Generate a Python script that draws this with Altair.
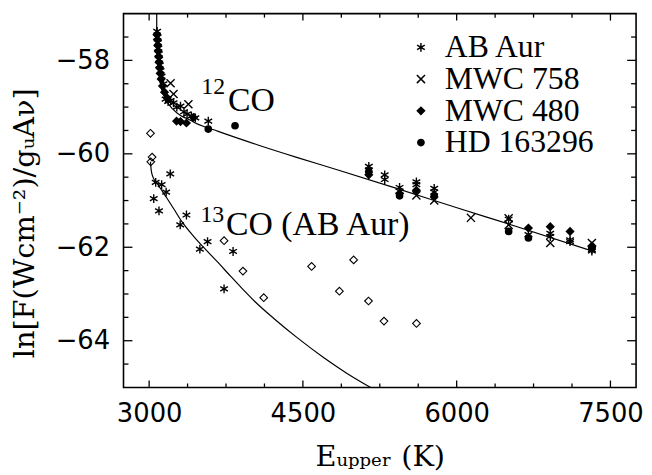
import altair as alt
import pandas as pd

# ---------------- data ----------------
stars = ["AB Aur", "MWC 758", "MWC 480", "HD 163296"]

# 12CO, AB Aur (asterisks)
ab12_E = [3078, 3082, 3086, 3090, 3094, 3098, 3104, 3112, 3122, 3140, 3161, 3185, 3210,
          3238, 3270, 3306, 3340, 3370, 3412, 3451, 3577,
          5143, 5143, 5298, 5298, 5443, 5443, 5607, 5607, 5781, 5781,
          6507, 6700, 6913, 6913, 7106, 7106, 7319, 7319]
ab12_y = [-57.38, -57.50, -57.62, -57.74, -57.86, -57.98, -58.10, -58.22, -58.34, -58.50,
          -58.83, -58.88, -58.86, -58.91, -59.00, -58.98, -59.10, -59.15, -59.19, -59.23, -59.30,
          -60.27, -60.35, -60.45, -60.55, -60.72, -60.80, -60.60, -60.66, -60.74, -60.82,
          -61.40, -61.73, -61.70, -61.77, -61.84, -61.88, -62.05, -62.08]

# 12CO, MWC 758 (crosses)
m758_E = [3209, 3238, 3383, 5607, 5781, 6139, 6507, 6507, 6913, 7319]
m758_y = [-58.49, -58.72, -58.94, -60.89, -61.00, -61.37, -61.38, -61.52, -61.91, -61.91]

# 12CO, MWC 480 (filled diamonds)
m480_E = [3076, 3080, 3084, 3088, 3092, 3096, 3101, 3108, 3117, 3130, 3150, 3175,
          3267, 3306, 3364, 3432,
          5143, 5443, 5607, 6700, 6913, 7106, 7319]
m480_y = [-57.45, -57.56, -57.68, -57.80, -57.92, -58.04, -58.16, -58.28, -58.40, -58.55,
          -58.68, -58.80, -59.30, -59.31, -59.34, -59.22,
          -60.45, -60.85, -60.78, -61.59, -61.56, -61.66, -61.97]

# 12CO, HD 163296 (filled circles)
hd_E = [3577, 3838, 5143, 5443, 5781, 6507, 6700, 7319]
hd_y = [-59.47, -59.40, -60.38, -60.90, -60.90, -61.66, -61.80, -62.02]

# 13CO (AB Aur), asterisks
ab13_E = [3206, 3064, 3122, 3166, 3045, 3096, 3364, 3303, 3570, 3495, 3819, 3731]
ab13_y = [-60.43, -60.61, -60.66, -60.82, -60.96, -61.22, -61.31, -61.52, -61.88, -62.04, -62.09, -62.89]

# open diamonds
od_E = [3013, 3029, 3016, 3731, 3915, 4118, 4585, 4995, 4856, 5140, 5291, 5608]
od_y = [-59.56, -60.07, -60.17, -61.86, -62.51, -63.08, -62.41, -62.27, -62.94, -63.15, -63.58, -63.63]

# fitted curves
fit12_E = [3074, 3074, 3084, 3103, 3132, 3171, 3229, 3306, 3384, 3451, 3674, 4061, 4447,
           4834, 5414, 5995, 6575, 7348]
fit12_y = [-56.95, -57.60, -58.02, -58.41, -58.68, -58.87, -59.04, -59.18, -59.26, -59.34,
           -59.52, -59.81, -60.08, -60.34, -60.74, -61.15, -61.55, -62.10]
fit13_E = [3013, 3021, 3040, 3074, 3122, 3171, 3238, 3316, 3432, 3548, 3674, 3799, 3915,
           4031, 4225, 4447, 4708, 4931, 5192]
fit13_y = [-60.17, -60.36, -60.51, -60.62, -60.78, -60.94, -61.17, -61.44, -61.76, -62.04,
           -62.33, -62.63, -62.90, -63.16, -63.54, -63.94, -64.37, -64.70, -65.04]

# axis ticks
x_major = [3000, 4500, 6000, 7500]
x_minor = [3375, 3750, 4125, 4875, 5250, 5625, 6375, 6750, 7125]
y_major = [-64, -62, -60, -58]
y_minor = [-64.5, -63.5, -63, -62.5, -61.5, -61, -60.5, -59.5, -59, -58.5, -57.5]

# ---------------- tables ----------------
pts12 = pd.concat([
    pd.DataFrame({"E": ab12_E, "lnF": ab12_y, "star": "AB Aur"}),
    pd.DataFrame({"E": m758_E, "lnF": m758_y, "star": "MWC 758"}),
    pd.DataFrame({"E": m480_E, "lnF": m480_y, "star": "MWC 480"}),
    pd.DataFrame({"E": hd_E, "lnF": hd_y, "star": "HD 163296"}),
], ignore_index=True)
pts13 = pd.DataFrame({"E": ab13_E, "lnF": ab13_y, "star": "AB Aur"})
opend = pd.DataFrame({"E": od_E, "lnF": od_y})
fit12 = pd.DataFrame({"E": fit12_E, "lnF": fit12_y, "i": range(len(fit12_E))})
fit13 = pd.DataFrame({"E": fit13_E, "lnF": fit13_y, "i": range(len(fit13_E))})

W, H = 517, 377
XS = alt.Scale(domain=[2750, 7750], nice=False, zero=False)
YS = alt.Scale(domain=[-65, -57], nice=False, zero=False)

ASTER = "M0,-1L0,1M-0.866,-0.5L0.866,0.5M-0.866,0.5L0.866,-0.5"
XMARK = "M-1,-1L1,1M-1,1L1,-1"

shape_sc = alt.Scale(domain=stars, range=[ASTER, XMARK, "diamond", "circle"])
fill_sc = alt.Scale(domain=stars, range=["transparent", "transparent", "black", "black"])
stroke_sc = alt.Scale(domain=stars, range=["black", "black", "black", "black"])
size_sc = alt.Scale(domain=stars, range=[80, 40, 45, 28])

legend = alt.Legend(orient="none", legendX=284, legendY=18, title=None,
                    labelFont="Liberation Serif", labelFontSize=32, labelColor="black",
                    symbolStrokeWidth=1.5, rowPadding=0,
                    labelOffset=8, padding=0, symbolOpacity=1, labelLimit=400)

x_axis = alt.Axis(values=x_major, ticks=False, domain=False, grid=False, format="d",
                  labelFont="DejaVu Sans", labelFontSize=26, labelColor="black", labelPadding=13,
                  labelFlush=False,
                  title="Eᵤₚₚₑᵣ  (K)", titleFont="DejaVu Serif", titleFontSize=29,
                  titleFontWeight="normal", titleColor="black", titlePadding=17)
y_axis = alt.Axis(values=y_major, ticks=False, domain=False, grid=False, format="d",
                  labelFont="DejaVu Sans", labelFontSize=26, labelColor="black", labelPadding=14,
                  labelFlush=False,
                  title="ln[F(Wcm⁻²)/gᵤAν]", titleFont="DejaVu Serif", titleFontSize=29,
                  titleFontWeight="normal", titleColor="black", titlePadding=16, titleY=211)

def X(field):
    return alt.X(field, scale=XS, axis=x_axis)

def Y(field):
    return alt.Y(field, scale=YS, axis=y_axis)

def star_enc():
    return dict(
        shape=alt.Shape("star:N", scale=shape_sc, legend=legend),
        fill=alt.Fill("star:N", scale=fill_sc, legend=legend),
        stroke=alt.Stroke("star:N", scale=stroke_sc, legend=legend),
        size=alt.Size("star:N", scale=size_sc, legend=legend),
    )

base_pts = alt.Chart(pts12).mark_point(strokeWidth=1.4, opacity=1).encode(
    x=X("E:Q"), y=Y("lnF:Q"), **star_enc())
pts13_layer = alt.Chart(pts13).mark_point(strokeWidth=1.4, opacity=1).encode(
    x=X("E:Q"), y=Y("lnF:Q"), **star_enc())
open_layer = alt.Chart(opend).mark_point(shape="diamond", filled=False, stroke="black",
                                         strokeWidth=1.1, size=60, opacity=1).encode(
    x=X("E:Q"), y=Y("lnF:Q"))

def fit_layer(df):
    return alt.Chart(df).mark_line(color="black", strokeWidth=1.2, clip=True,
                                   interpolate="monotone").encode(
        x=X("E:Q"), y=Y("lnF:Q"), order=alt.Order("i:Q"))

# inward ticks on all four sides
def xticks(vals, L):
    d = pd.DataFrame({"v": vals})
    bot = alt.Chart(d).mark_rule(color="black", strokeWidth=1.3).encode(
        x=X("v:Q"), y=alt.value(H), y2=alt.value(H - L))
    top = alt.Chart(d).mark_rule(color="black", strokeWidth=1.3).encode(
        x=X("v:Q"), y=alt.value(0), y2=alt.value(L))
    return [bot, top]

def yticks(vals, L):
    d = pd.DataFrame({"v": vals})
    lef = alt.Chart(d).mark_rule(color="black", strokeWidth=1.3).encode(
        y=Y("v:Q"), x=alt.value(0), x2=alt.value(L))
    rig = alt.Chart(d).mark_rule(color="black", strokeWidth=1.3).encode(
        y=Y("v:Q"), x=alt.value(W), x2=alt.value(W - L))
    return [lef, rig]

# molecule labels
lab_big = pd.DataFrame({"E": [3770, 3751], "lnF": [-59.08, -61.74], "t": ["CO", "CO (AB Aur)"]})
lab_sup = pd.DataFrame({"E": [3509, 3500], "lnF": [-58.72, -61.46], "t": ["12", "13"]})
big_text = alt.Chart(lab_big).mark_text(align="left", baseline="alphabetic", font="Liberation Serif",
                                        fontSize=34, color="black").encode(
    x=X("E:Q"), y=Y("lnF:Q"), text="t:N")
sup_text = alt.Chart(lab_sup).mark_text(align="left", baseline="alphabetic", font="Liberation Serif",
                                        fontSize=24, color="black").encode(
    x=X("E:Q"), y=Y("lnF:Q"), text="t:N")

layers = [base_pts, pts13_layer, open_layer, fit_layer(fit12), fit_layer(fit13), big_text, sup_text]
layers += xticks(x_major, 7) + xticks(x_minor, 4) + yticks(y_major, 9) + yticks(y_minor, 5)

chart = alt.layer(*layers).properties(
    width=W, height=H, background="white",
    autosize=alt.AutoSizeParams(type="none"),
    padding={"left": 116.5, "top": 3.7, "right": 8, "bottom": 86},
).configure_view(stroke="black", strokeWidth=1.6)

chart.save("out.html", embed_options={"renderer": "svg", "actions": False})
